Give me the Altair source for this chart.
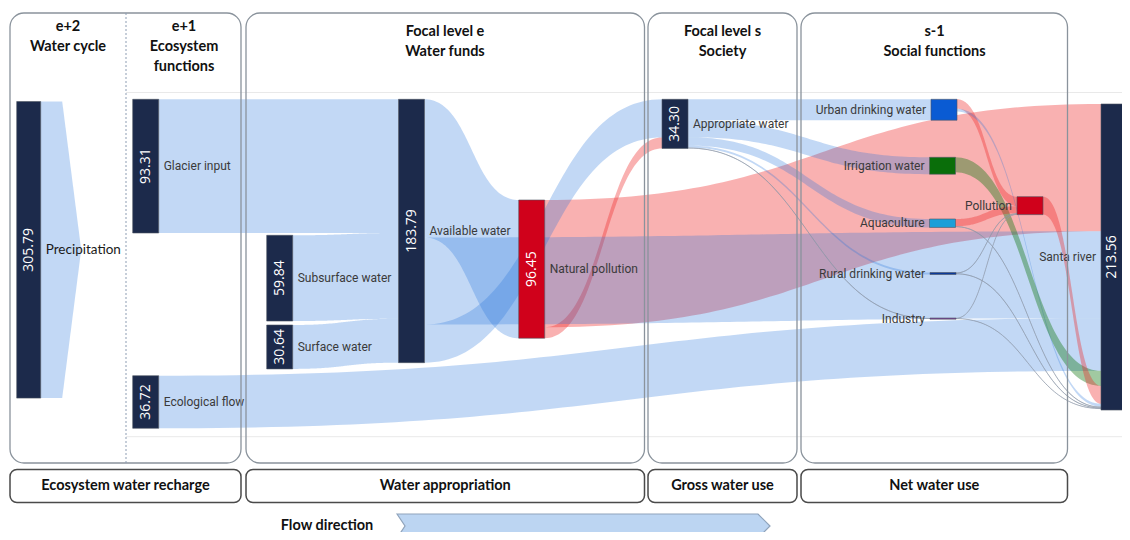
import numpy as np
import pandas as pd
import altair as alt
from collections import defaultdict

# ------------------------------------------------------------------ data
NODES = ["Precipitation", "Glacier input", "Ecological flow", "Subsurface water",
         "Surface water", "Available water", "Natural pollution", "Appropriate water",
         "Urban drinking water", "Irrigation water", "Aquaculture",
         "Rural drinking water", "Industry", "Pollution", "Santa river"]
NODE_TOTALS = [305.79, 93.31, 36.72, 59.84, 30.64, 183.79, 96.45, 34.30,
               None, None, None, None, None, None, 213.56]

LINK_SOURCE = ["Glacier input", "Subsurface water", "Surface water", "Ecological flow",
               "Available water", "Available water", "Available water",
               "Natural pollution", "Natural pollution",
               "Appropriate water", "Appropriate water", "Appropriate water",
               "Appropriate water", "Appropriate water",
               "Urban drinking water", "Urban drinking water", "Irrigation water",
               "Aquaculture", "Aquaculture", "Rural drinking water", "Rural drinking water",
               "Industry", "Industry", "Pollution"]
LINK_TARGET = ["Available water", "Available water", "Available water", "Santa river",
               "Natural pollution", "Santa river", "Appropriate water",
               "Santa river", "Appropriate water",
               "Urban drinking water", "Irrigation water", "Aquaculture",
               "Rural drinking water", "Industry",
               "Pollution", "Santa river", "Santa river",
               "Pollution", "Santa river", "Pollution", "Santa river",
               "Pollution", "Santa river", "Santa river"]
LINK_VALUE = [93.31, 59.84, 30.64, 36.72,
              96.45, 60.70, 26.64,
              88.79, 7.66,
              14.6, 11.8, 5.9, 1.4, 0.6,
              6.6, 2.0, 10.5,
              5.0, 0.6, 0.6, 0.6,
              0.3, 0.3, 12.5]
LINK_KIND = ["water", "water", "water", "water",
             "water", "water", "water",
             "pollution", "pollution",
             "water", "water", "water", "water", "trace",
             "pollution", "water", "return",
             "pollution", "trace", "trace", "trace",
             "trace", "trace", "pollution"]

PANEL_TITLES = [["e+2", "Water cycle"], ["e+1", "Ecosystem", "functions"],
                ["Focal level e", "Water funds"], ["Focal level s", "Society"],
                ["s-1", "Social functions"]]
STAGE_LABELS = ["Ecosystem water recharge", "Water appropriation",
                "Gross water use", "Net water use"]
FLOW_LABEL = "Flow direction"

# ------------------------------------------------------------------ layout / style
PX_PER_UNIT = 1.433
PRECIP_PX_PER_UNIT = 0.97
NODE_W = 26
NAVY = "#1c2a4b"
NODE_POS = {  # left x, top y, label side
    "Precipitation": (16.7, 101.5, "right"),
    "Glacier input": (132.7, 99.3, "right"),
    "Ecological flow": (132.7, 375.7, "right"),
    "Subsurface water": (266.7, 235.3, "right"),
    "Surface water": (266.7, 325.0, "right"),
    "Available water": (398.5, 99.3, "right"),
    "Natural pollution": (518.7, 200.0, "right"),
    "Appropriate water": (662.0, 99.3, "right"),
    "Urban drinking water": (931.0, 99.3, "left"),
    "Irrigation water": (929.5, 157.3, "left"),
    "Aquaculture": (929.5, 219.0, "left"),
    "Rural drinking water": (930.0, 272.5, "left"),
    "Industry": (930.0, 318.0, "left"),
    "Pollution": (1017.0, 196.7, "left"),
    "Santa river": (1101.0, 104.0, "left"),
}
NODE_WIDTH = {"Precipitation": 24}
NODE_FILL = {"Natural pollution": "#d0011b", "Urban drinking water": "#0a5bd3",
             "Irrigation water": "#0a6e0a", "Aquaculture": "#1d9fd8",
             "Rural drinking water": "#0b3a9a", "Industry": "#7d3f9c",
             "Pollution": "#d0011b"}
IN_ORDER = {
    "Available water": ["Glacier input", "Subsurface water", "Surface water"],
    "Appropriate water": ["Available water", "Natural pollution"],
    "Santa river": ["Natural pollution", "Available water", "Ecological flow",
                    "Irrigation water", "Pollution", "Urban drinking water",
                    "Aquaculture", "Rural drinking water", "Industry"],
    "Pollution": ["Urban drinking water", "Aquaculture", "Rural drinking water", "Industry"],
}
KIND_STYLE = {"water": ("rgb(37,116,219)", 0.28), "pollution": ("rgb(238,38,38)", 0.36),
              "return": ("rgb(20,120,20)", 0.40), "trace": ("#7f8ea3", 0.45)}
SOCIAL = {"Urban drinking water", "Irrigation water", "Aquaculture",
          "Rural drinking water", "Industry", "Pollution"}
PANELS_X = [(10, 241), (246, 644.5), (648, 797), (801, 1067.5)]
PANEL_Y = (13, 463)
DIVIDER_X = 126
TITLE_X = [68, 184, 445, 722.5, 934.5]
TITLE_Y0 = [27, 27, 31.5, 31.5, 31.5]
TITLE_LINE_H = 20
STAGE_Y = (469.5, 502.5)
GRID_Y = [92.5, 436.7]
FLOW_TEXT_X = 327
FLOW_ARROW = dict(x0=397, notch=8, x1=758, tip=12, top=514, h=24)
VIEW_X = (8, 1122)
VIEW_Y = (8, 532)

# ------------------------------------------------------------------ sankey layout
in_sum, out_sum = defaultdict(float), defaultdict(float)
for s, t, v in zip(LINK_SOURCE, LINK_TARGET, LINK_VALUE):
    out_sum[s] += v
    in_sum[t] += v

geo = {}
node_rows = []
for name, total in zip(NODES, NODE_TOTALS):
    val = total if total is not None else max(in_sum[name], out_sum[name])
    k = PRECIP_PX_PER_UNIT if name == "Precipitation" else PX_PER_UNIT
    x0, y0, side = NODE_POS[name]
    w = NODE_WIDTH.get(name, NODE_W)
    h = max(val * k, 1.2)
    d = dict(name=name, x0=x0, x1=x0 + w, y0=y0, y1=y0 + h, cx=x0 + w / 2, cy=y0 + h / 2,
             fill=NODE_FILL.get(name, NAVY), side=side,
             vlabel=("%.2f" % total) if total is not None else "")
    d["lx"] = d["x1"] + 5 if side == "right" else d["x0"] - 5
    geo[name] = d
    node_rows.append(d)
nodes_df = pd.DataFrame(node_rows)
# value label of the right-edge node is kept inside the visible part
nodes_df.loc[nodes_df["name"] == "Santa river", "cx"] = (1101.0 + VIEW_X[1]) / 2 + 0.5

links = []
out_off = defaultdict(float)
for i, (s, t, v, kd) in enumerate(zip(LINK_SOURCE, LINK_TARGET, LINK_VALUE, LINK_KIND)):
    h = v * PX_PER_UNIT
    links.append(dict(id=i, s=s, t=t, v=v, kind=kd, h=h, ys=geo[s]["y0"] + out_off[s]))
    out_off[s] += h
in_off = defaultdict(float)
by_pair = {(l["s"], l["t"]): l for l in links}
for t, srcs in IN_ORDER.items():
    for s in srcs:
        l = by_pair[(s, t)]
        l["yt"] = geo[t]["y0"] + in_off[t]
        in_off[t] += l["h"]
for l in links:
    if "yt" not in l:
        l["yt"] = geo[l["t"]]["y0"] + in_off[l["t"]]
        in_off[l["t"]] += l["h"]

ts = np.linspace(0, 1, 70)
rows = []
for l in links:
    x0 = geo[l["s"]]["x1"]
    x1 = geo[l["t"]]["x0"]
    xm = (x0 + x1) / 2
    bx = (1 - ts) ** 3 * x0 + 3 * (1 - ts) ** 2 * ts * xm + 3 * (1 - ts) * ts ** 2 * xm + ts ** 3 * x1
    f = 3 * ts ** 2 - 2 * ts ** 3
    top = l["ys"] + (l["yt"] - l["ys"]) * f
    col, op = KIND_STYLE[l["kind"]]
    if l["kind"] == "trace":
        group = "D"
    elif l["s"] in SOCIAL:
        group = "C"
    elif l["kind"] == "pollution":
        group = "A"
    else:
        group = "B"
    for j in range(len(ts)):
        rows.append(dict(link=l["id"], x=bx[j], top=top[j], bot=top[j] + l["h"],
                         mid=top[j] + l["h"] / 2, fill=col, alpha=op, group=group))
links_df = pd.DataFrame(rows)

# ------------------------------------------------------------------ helpers
XS = alt.Scale(domain=list(VIEW_X), nice=False, zero=False)
YS = alt.Scale(domain=list(VIEW_Y), nice=False, zero=False, reverse=True)


def X(f):
    return alt.X(f, type="quantitative", scale=XS, axis=None)


def Y(f):
    return alt.Y(f, type="quantitative", scale=YS, axis=None)


layers = []

# faint frame lines
grid_df = pd.DataFrame({"x": [DIVIDER_X] * len(GRID_Y), "x2": [VIEW_X[1]] * len(GRID_Y), "y": GRID_Y})
layers.append(alt.Chart(grid_df).mark_rule(color="#e9e9e9", strokeWidth=1).encode(
    x=X("x"), x2="x2", y=Y("y")))

# precipitation arrow shape
p = geo["Precipitation"]
prec_df = pd.DataFrame({"x": [p["x1"], p["x1"] + 21.5, p["x1"] + 40.5],
                        "top": [p["y0"], p["y0"], p["cy"]],
                        "bot": [p["y1"], p["y1"], p["cy"]]})
layers.append(alt.Chart(prec_df).mark_area(color=KIND_STYLE["water"][0],
                                           opacity=KIND_STYLE["water"][1]).encode(
    x=X("x"), y=Y("top"), y2="bot"))

for g in ["A", "B", "C", "D"]:
    sub = links_df[links_df["group"] == g]
    layers.append(alt.Chart(sub).mark_area(interpolate="linear").encode(
        x=X("x"), y=Y("top"), y2="bot", detail="link:N",
        color=alt.Color("fill:N", scale=None),
        opacity=alt.Opacity("alpha:Q", scale=None)))
    if g == "D":
        layers.append(alt.Chart(sub).mark_line(color="#8e99a8", strokeWidth=1,
                                               opacity=0.7).encode(
            x=X("x"), y=Y("mid"), detail="link:N"))

# nodes
layers.append(alt.Chart(nodes_df).mark_rect(stroke="#4d5563", strokeWidth=0.6).encode(
    x=X("x0"), x2="x1", y=Y("y0"), y2="y1", fill=alt.Fill("fill:N", scale=None)))

# node labels
lab_r = nodes_df[(nodes_df["side"] == "right") & (nodes_df["name"] != "Precipitation")]
lab_l = nodes_df[nodes_df["side"] == "left"]
lab_p = nodes_df[nodes_df["name"] == "Precipitation"]
layers.append(alt.Chart(lab_r).mark_text(align="left", baseline="middle", font="Roboto",
                                         fontSize=12, color="#3a3a3a").encode(
    x=X("lx"), y=Y("cy"), text="name:N"))
layers.append(alt.Chart(lab_l).mark_text(align="right", baseline="middle", font="Roboto",
                                         fontSize=12, color="#3a3a3a").encode(
    x=X("lx"), y=Y("cy"), text="name:N"))
layers.append(alt.Chart(lab_p).mark_text(align="left", baseline="middle", font="Lato",
                                         fontSize=13.5, color="#1a1a1a").encode(
    x=X("lx"), y=Y("cy"), text="name:N"))

# value labels
vals = nodes_df[nodes_df["vlabel"] != ""]
layers.append(alt.Chart(vals).mark_text(angle=270, align="center", baseline="middle",
                                        font="Open Sans", fontSize=14, color="white").encode(
    x=X("cx"), y=Y("cy"), text="vlabel:N"))

# panels
panels_df = pd.DataFrame({"x0": [a for a, b in PANELS_X], "x1": [b for a, b in PANELS_X],
                          "y0": PANEL_Y[0], "y1": PANEL_Y[1]})
layers.append(alt.Chart(panels_df).mark_rect(fill="white", fillOpacity=0, stroke="#8a939c",
                                             strokeWidth=1.3, cornerRadius=14).encode(
    x=X("x0"), x2="x1", y=Y("y0"), y2="y1"))
div_df = pd.DataFrame({"x": [DIVIDER_X], "y0": [PANEL_Y[0]], "y1": [PANEL_Y[1]]})
layers.append(alt.Chart(div_df).mark_rule(color="#8d9db3", strokeWidth=1,
                                          strokeDash=[2, 2]).encode(
    x=X("x"), y=Y("y0"), y2="y1"))

# panel titles
trows = []
for px, lines, y0 in zip(TITLE_X, PANEL_TITLES, TITLE_Y0):
    for j, line in enumerate(lines):
        trows.append(dict(x=px, y=y0 + j * TITLE_LINE_H, text=line))
layers.append(alt.Chart(pd.DataFrame(trows)).mark_text(
    align="center", baseline="middle", font="Lato", fontSize=14.5, fontWeight="bold",
    color="#111111").encode(x=X("x"), y=Y("y"), text="text:N"))

# stage boxes
stage_df = pd.DataFrame({"x0": [a for a, b in PANELS_X], "x1": [b for a, b in PANELS_X],
                         "y0": STAGE_Y[0], "y1": STAGE_Y[1], "text": STAGE_LABELS})
stage_df["cx"] = (stage_df["x0"] + stage_df["x1"]) / 2
stage_df["cy"] = (stage_df["y0"] + stage_df["y1"]) / 2
layers.append(alt.Chart(stage_df).mark_rect(fill="white", stroke="#4a4a4a", strokeWidth=1.5,
                                            cornerRadius=7).encode(
    x=X("x0"), x2="x1", y=Y("y0"), y2="y1"))
layers.append(alt.Chart(stage_df).mark_text(align="center", baseline="middle", font="Lato",
                                            fontSize=14.5, fontWeight="bold",
                                            color="#111111").encode(
    x=X("cx"), y=Y("cy"), text="text:N"))

# flow direction arrow
fa = FLOW_ARROW
arrow_df = pd.DataFrame({"y": [fa["top"], fa["top"] + fa["h"] / 2, fa["top"] + fa["h"]],
                         "xl": [fa["x0"], fa["x0"] + fa["notch"], fa["x0"]],
                         "xr": [fa["x1"], fa["x1"] + fa["tip"], fa["x1"]]})
layers.append(alt.Chart(arrow_df).mark_area(orient="horizontal", color="#bcd5f2",
                                            stroke="#8fa3bb", strokeWidth=1.2).encode(
    y=Y("y"), x=X("xl"), x2="xr"))
layers.append(alt.Chart(pd.DataFrame({"x": [FLOW_TEXT_X], "y": [fa["top"] + fa["h"] / 2],
                                      "text": [FLOW_LABEL]})).mark_text(
    align="center", baseline="middle", font="Lato", fontSize=14.5, fontWeight="bold",
    color="#111111").encode(x=X("x"), y=Y("y"), text="text:N"))

chart = alt.layer(*layers).properties(
    width=VIEW_X[1] - VIEW_X[0], height=VIEW_Y[1] - VIEW_Y[0], padding=0,
    autosize=alt.AutoSizeParams(type="none"), background="white"
).configure_view(stroke=None)

chart.save("out.html", embed_options={"renderer": "svg", "actions": False})
